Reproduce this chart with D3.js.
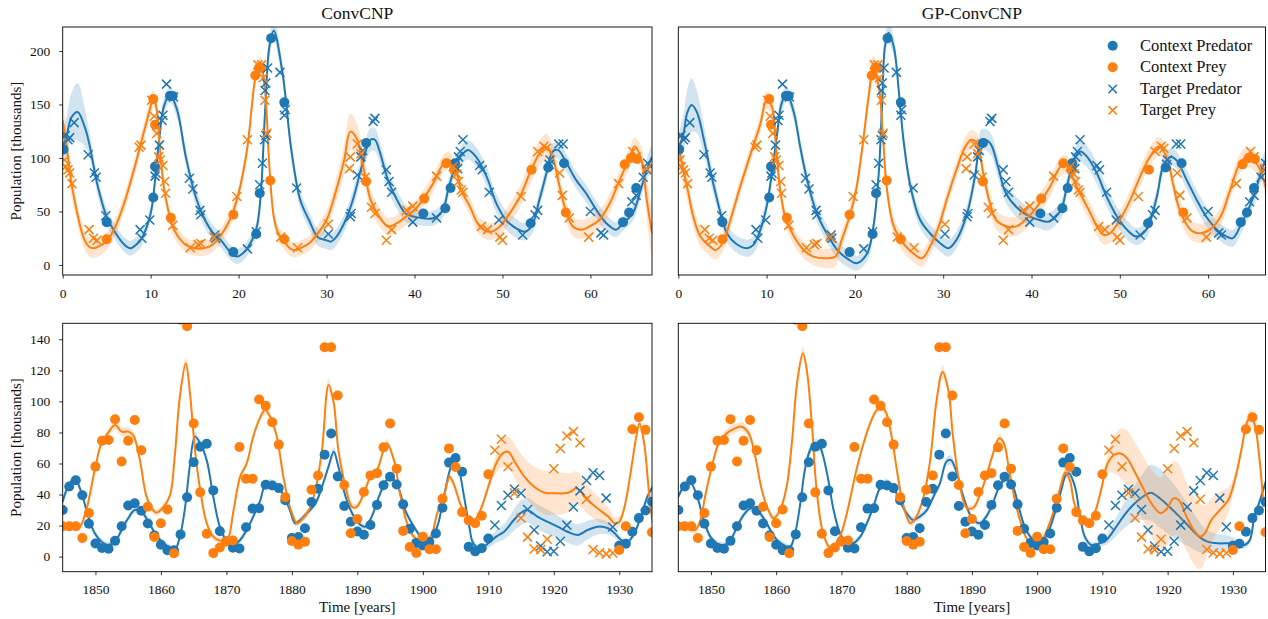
<!DOCTYPE html>
<html><head><meta charset="utf-8">
<script src="https://cdn.jsdelivr.net/npm/d3@7"></script>
<style>
html,body{margin:0;padding:0;background:#fff;}
svg{display:block;}
text{font-family:"Liberation Serif","Times New Roman",serif;}
</style></head><body>
<svg id="chart" width="1268" height="619"></svg>
<script>
// ---------------- DATA ----------------
const titles = ["ConvCNP", "GP-ConvCNP"];
const legendLabels = ["Context Predator", "Context Prey", "Target Predator", "Target Prey"];
const topXTicks = [0, 10, 20, 30, 40, 50, 60];
const topYTicks = [0, 50, 100, 150, 200];
const botXTicks = [1850, 1860, 1870, 1880, 1890, 1900, 1910, 1920, 1930];
const botYTicks = [0, 20, 40, 60, 80, 100, 120, 140];

// Top row: simulated predator/prey, [time, population]
const ctxPredTop = [[0.1,108],[5.0,40],[10.3,63],[10.5,92],[12.2,158],[12.5,158],[19.4,12],[22.0,29],[22.4,67],[23.7,212],[25.2,152],[34.5,114],[41.0,48],[43.5,53],[44.1,72],[44.6,95],[53.2,39],[55.2,91],[57.0,95],[63.7,40],[64.4,49],[65.2,72]];
const ctxPreyTop = [[5.0,24],[10.3,155],[10.5,131],[12.3,44],[19.4,47],[21.9,177],[22.3,184],[22.5,184],[23.6,79],[25.2,24],[34.5,78],[41.1,62],[43.6,95],[44.5,89],[53.3,89],[57.2,49],[63.9,94],[64.6,100],[65.3,99]];
const tgtPredTop = [[0.3,121],[0.6,117],[0.8,119],[1.3,133],[2.9,103],[3.6,86],[3.8,82],[4.9,46],[8.8,33],[9.0,25],[9.9,42],[10.5,83],[10.6,86],[11.0,112],[11.3,135],[11.4,140],[11.8,169],[12.6,157],[14.4,81],[14.8,71],[15.6,51],[15.7,47],[17.3,28],[17.4,25],[21.0,15],[22.0,31],[22.4,75],[22.7,95],[22.95,117],[23.1,121],[23.0,163],[23.1,170],[23.3,184],[24.7,180],[25.2,140],[25.3,145],[26.6,72],[30.2,29],[32.7,45],[32.8,48],[33.5,84],[33.9,101],[34.1,107],[35.3,134],[35.5,137],[36.8,89],[37.1,78],[37.4,68],[39.8,40],[42.5,44],[44.9,90],[45.0,101],[45.2,106],[45.5,117],[47.4,93],[47.7,89],[48.5,68],[49.6,42],[52.3,28],[53.7,47],[54.0,51],[55.3,94],[55.4,98],[56.4,113],[56.9,113],[60.0,50],[61.2,30],[61.5,28],[64.7,59],[65.2,65],[66.0,82],[66.4,89],[66.5,95]];
const tgtPreyTop = [[0.2,98],[0.35,92],[0.6,89],[0.8,86],[1.05,76],[3.0,33],[3.5,25],[3.9,23],[8.7,110],[8.9,112],[10.1,154],[10.4,139],[10.7,123],[10.9,101],[11.1,98],[11.4,93],[11.6,78],[11.7,67],[12.5,37],[14.5,16],[15.4,19],[15.7,20],[17.2,26],[19.8,64],[21.0,117],[22.2,187],[22.6,187],[22.8,175],[23.0,154],[23.2,123],[24.8,26],[26.7,16],[30.2,38],[32.6,90],[32.7,101],[33.5,113],[33.9,104],[34.4,82],[35.1,54],[35.5,48],[36.8,23],[37.4,33],[39.1,51],[39.8,55],[42.5,83],[44.4,92],[44.8,85],[45.0,78],[45.3,70],[45.5,68],[47.6,36],[48.3,33],[49.7,26],[50.0,23],[52.1,64],[54.0,106],[54.7,111],[55.0,109],[56.5,86],[56.8,65],[57.6,44],[59.8,26],[63.2,76],[64.8,106],[65.2,101],[66.4,90]];

// Model predictions, [time, mean, band half-width]
const convTopPred = [[0,110,16],[0.5,123,18],[1,138,23],[1.7,143,27],[2.5,129,18],[3,114,12],[4,73,9],[5,45,8],[6,30,7],[7,19,7],[7.7,15.6,7],[8.5,20,7],[9,25,7],[10,48,7],[10.5,79,8],[11,120,8],[11.5,148,8],[12.2,159,7],[13,145,8],[14,101,8],[15,67,8],[16,45,8],[17,31,7],[18,23,7],[19,12.5,7],[19.8,7.8,7],[20.5,11,7],[21,15.6,7],[22,33,7],[22.5,64,8],[23,142,9],[23.5,204,10],[24,219,10],[25,179,9],[26,107,9],[27,61,8],[28,42,8],[29,26,8],[30,23,8],[30.5,21.8,8],[31,25,8],[32,39,8],[33,61,9],[34,92,10],[35,117,11],[35.5,117,11],[36,107,10],[37,79,10],[38,61,9],[39,48,8],[40,45,7],[42.1,43.6,7],[43.2,51,7],[43.9,73,8],[44.8,95,8],[45.5,104,9],[46.1,107.5,9],[47,101,9],[48.2,82.6,9],[49.3,57.6,9],[50.4,42,9],[51.6,34,9],[52.5,31,8],[53.3,36,8],[54.2,61,8],[55,85.7,8],[55.7,106,8],[56.3,107.5,8],[57.3,95,8],[58.4,79,8],[59.5,67,8],[60.7,51,8],[61.8,39,8],[62.9,33,7],[63.7,39,7],[64.8,48,7],[65.6,67,8],[66.4,89,10],[67,101,12]];
const convTopPrey = [[0,135,18],[0.5,107,15],[1,76,12],[1.5,54.5,10],[2,36,9],[2.5,23,9],[3,17,9],[3.5,15.6,9],[4,17,9],[5,22,8],[6,36,8],[7,58,8],[8,86,8],[9,117,8],[10,148,8],[10.3,156,8],[10.7,145,8],[11,114,8],[11.5,73,8],[12,51,7],[12.5,36,7],[13,28,7],[14,18.7,7],[15,15.6,7],[16,15.6,7],[17,18.7,7],[18,28,7],[19,42,7],[20,67,7],[21,110,7],[21.5,148,7],[22,179,7],[22.5,188,7],[23,163.5,7],[23.5,92,7],[24,45,7],[24.5,29.6,7],[25,23.4,7],[26,14.6,7],[26.5,14,7],[27,15.6,7],[28,20,7],[29,29.6,8],[30,42,9],[31,67,11],[32,98,14],[32.7,124.6,17],[33.5,117,14],[34,98,12],[34.5,79,11],[35,61,10],[36,45,9],[37,36,8],[38,39,8],[39,45,8],[40.2,53,8],[42.1,76,8],[43.2,93.5,8],[43.9,98,8],[44.8,85.7,8],[45.3,70,8],[46.3,54.5,8],[47.4,36,8],[48.6,31,8],[49.7,36,8],[50.8,48,9],[52,64,10],[53.1,85.7,11],[54.2,104,12],[55,110.6,12],[55.7,101,11],[56.5,73,10],[57.3,48,9],[58,36,9],[59,33,9],[59.9,36,9],[61,42,9],[62.2,57.6,9],[63.3,79,9],[64.5,101,9],[65,110.6,9],[65.8,98,12],[66.4,61,18],[67,29.6,25]];
const gpTopPred = [[0,107.5,14],[0.6,123,18],[1,142,22],[1.5,149.5,25],[2.1,143,20],[2.9,117,14],[3.6,89,10],[4.4,61,9],[5,42,8],[5.5,29.6,8],[6.5,20,8],[7.8,15.6,8],[8.5,18.7,8],[9.3,33,8],[10,54.5,8],[10.6,85.7,8],[11.2,123,8],[11.7,151,8],[12.3,159.5,7],[13.1,142,8],[13.8,110.6,8],[14.6,79,8],[15.7,48,8],[16.8,29.6,8],[18,14,8],[19.1,6.2,8],[20.2,1.6,7],[21.4,11,7],[22.1,36,7],[22.7,85.7,7],[23.1,154,8],[23.4,204,9],[23.8,217,10],[24.4,204,9],[25,160,9],[25.5,117,9],[26.3,73,8],[27.4,42,8],[28.5,29.6,8],[29.7,20,8],[30.6,15.6,8],[31.5,23.4,8],[32.7,48,8],[33.6,82.6,9],[34.4,117,10],[35.3,114,10],[36.2,92,10],[37.1,67,9],[38.7,51,9],[39.9,45,8],[40.9,42,8],[41.9,40.5,8],[43.3,51,8],[44,73,8],[44.8,98,9],[45.5,106,10],[46.3,101,10],[47.4,85.7,10],[48.5,64,9],[49.7,45,9],[50.8,33,9],[51.9,26.5,8],[53,33,8],[54.2,64,8],[54.9,92,8],[55.7,101,8],[56.4,98,8],[57.6,79,9],[58.7,61,9],[59.8,45,9],[61,33,8],[62.1,26.5,8],[62.8,25,8],[63.8,39,8],[64.7,54.5,8],[65.5,73,9],[66.2,92,10],[66.7,101,10]];
const gpTopPrey = [[0,110.6,16],[0.4,95,14],[1,73,12],[1.7,45,10],[2.5,26.5,9],[3.4,18.7,9],[4.2,14,9],[5,20,8],[5.9,42,8],[7,73,8],[8.2,104,8],[9.3,132,8],[10,154,8],[10.6,148,8],[11,117,8],[11.5,73,8],[12.1,45,8],[13.1,26.5,8],[14.2,14,8],[15.3,7.8,8],[16.8,6.2,9],[17.8,7.8,9],[18.5,23.4,8],[19.5,48,8],[20.2,73,8],[21,120,8],[21.5,154,10],[22.1,184,12],[22.7,167,10],[23.2,117,8],[23.6,73,8],[24.4,36,8],[25.5,20,8],[26.6,11,8],[27.6,6.2,8],[28.5,17,8],[29.5,36,8],[30.4,61,8],[31.5,89,8],[32.5,110.6,9],[33.2,117,9],[33.8,114,9],[34.6,82.6,9],[35.3,57.6,9],[36,42,9],[37.2,36,9],[38.3,36,9],[39.5,43.6,9],[40.9,57.6,9],[42.1,73,9],[43.3,92,9],[44,93.5,9],[44.8,79,9],[45.5,67,9],[46.7,48,9],[47.4,36,9],[48.2,28,9],[48.9,29.6,9],[50,42,9],[51.2,61,9],[52.3,82.6,9],[53.4,101,9],[54.4,110.6,9],[55.3,101,9],[56.1,73,9],[56.8,51,9],[58,33,9],[59.1,29.6,9],[60.2,33,9],[61.4,45,9],[62.5,70,9],[63.6,95,9],[64.4,101,9],[65.1,98,9],[65.9,89,9],[66.5,73,10],[66.7,61,10]];

// Bottom row: Hudson Bay hare (prey) / lynx (predator), thousands
const years = [1845,1846,1847,1848,1849,1850,1851,1852,1853,1854,1855,1856,1857,1858,1859,1860,1861,1862,1863,1864,1865,1866,1867,1868,1869,1870,1871,1872,1873,1874,1875,1876,1877,1878,1879,1880,1881,1882,1883,1884,1885,1886,1887,1888,1889,1890,1891,1892,1893,1894,1895,1896,1897,1898,1899,1900,1901,1902,1903,1904,1905,1906,1907,1908,1909,1910,1911,1912,1913,1914,1915,1916,1917,1918,1919,1920,1921,1922,1923,1924,1925,1926,1927,1928,1929,1930,1931,1932,1933,1934,1935];
const hare = [19.58,19.6,19.61,11.99,28.04,58,74.6,75.09,88.48,61.28,74.67,88.06,68.51,32.19,12.64,21.49,30.35,2.18,152.65,148.36,85.81,41.41,14.75,2.28,5.91,9.95,10.44,70.64,50.12,50.13,101.25,97.12,86.51,72.17,38.32,10.11,7.74,9.67,43.12,52.21,134.85,134.86,103.79,46.1,15.03,24.2,41.65,52.34,53.78,70.4,85.81,56.69,16.59,6.16,2.3,12.82,4.72,4.73,37.22,69.72,57.78,28.68,23.37,21.54,26.34,53.1,68.48,75.58,57.92,40.97,24.95,12.59,4.97,4.5,11.21,56.6,69.63,77.74,80.53,73.38,36.93,4.64,2.54,1.8,2.39,4.23,19.52,82.11,89.76,81.66,15.76];
const lynx = [30.09,45.15,49.15,39.52,21.23,8.42,5.56,5.08,10.17,19.6,32.91,34.38,29.59,21.3,13.69,7.65,4.08,4.09,14.33,38.22,60.78,70.77,72.77,42.68,16.39,9.83,5.8,5.26,18.91,30.95,31.18,46.34,45.77,44.15,36.33,12.03,12.6,18.34,35.14,43.77,65.69,79.35,51.65,32.59,22.45,16.16,14.12,20.38,33.33,46.0,51.41,46.43,33.68,18.01,8.86,7.13,9.47,14.86,31.47,60.57,63.51,54.7,6.3,3.41,5.44,11.65,20.35,32.88,39.55,43.36,40.83,30.36,17.18,6.82,3.19,3.52,9.94,20.3,31.99,42.36,49.08,53.99,52.25,37.7,19.14,6.98,8.31,16.01,24.82,29.7,35.4];
const targetYears = [1911,1912,1913,1914,1915,1916,1917,1918,1919,1920,1921,1922,1923,1924,1925,1926,1927,1928,1929];

const convBotPred = [[1845,35.4,2],[1845.8,45,2],[1846.8,50.5,2],[1847.9,40.8,2],[1848.9,25.8,2],[1849.9,15,2],[1850.9,9.7,2],[1851.9,7.5,2],[1853,9.7,2],[1854,17.2,2],[1855,24.7,2],[1856,30,2],[1857,29,2],[1858.1,22.5,2],[1859.1,15,2],[1860.1,9.7,2],[1861.1,6.4,2],[1862.1,4.3,2],[1862.9,12.9,2],[1863.7,32,2],[1864.4,58,2],[1865.2,77.3,3],[1866,73,2],[1867,62,2],[1868,38.6,2],[1869,19.3,2],[1870.1,9.7,2],[1871.1,7.5,2],[1872.1,10.7,2],[1873.1,17.2,2],[1874.1,25.8,2],[1875.2,36.5,2],[1875.9,46,2],[1876.7,47,3],[1877.7,46,2],[1878.7,39.7,2],[1879.7,30,2],[1880.5,21.5,2],[1881.3,23.6,2],[1882.3,28,2],[1883.6,34.3,2],[1884.6,45,2],[1885.6,58,2],[1886.4,67.6,3],[1887.1,58,2],[1888.2,38.6,2],[1889.2,28,2],[1890.2,21.5,2],[1891.2,19.3,2],[1892.2,25.8,2],[1893.3,38.6,2],[1894.5,49.4,2],[1895.3,50.5,2],[1896.3,44,2],[1897.3,30,2],[1898.4,21,2],[1899.7,12.9,2],[1900.9,9.7,2],[1902.2,19.3,2],[1903.2,38.6,2],[1904.3,58,2],[1904.8,61.2,2],[1905.5,55.8,2],[1906.3,38.6,2],[1907.1,19.3,2],[1907.7,8.6,2],[1908.8,5.4,2],[1910,8.6,3],[1911.2,12.9,4],[1912.4,16,5],[1913.9,23.6,7],[1914.9,28,8],[1915.9,30,8],[1917.5,25.8,8],[1919,22.5,8],[1920.6,19.3,7],[1922.1,16,7],[1923.7,14,7],[1925.2,17.2,6],[1926.7,19.3,5],[1928.3,18.3,4],[1929.3,15,3],[1930.3,10.7,2],[1931.3,9.7,2],[1932.3,15,2],[1933.3,25.8,2],[1934.3,38.6,2],[1935.1,45,2]];
const convBotPrey = [[1845,19.3,2],[1846.3,18.3,2],[1847.6,19.3,2],[1848.6,30,2],[1849.9,55.8,2],[1850.9,73,2],[1851.9,79.5,2],[1853,84.8,3],[1854,80.5,3],[1855,80.5,3],[1855.8,78,3],[1856.8,62,2],[1857.8,38.7,2],[1858.8,30,2],[1859.3,28.3,2],[1860.4,32,2],[1861.4,39.7,2],[1862.1,64,2],[1862.9,103,3],[1863.8,124.5,4],[1864.4,107,3],[1865.2,68.7,2],[1866,43,2],[1867,21.5,2],[1868,12.9,2],[1869,10.3,2],[1870.1,10.7,2],[1871.1,30,2],[1872.1,51.5,2],[1873.1,60,2],[1874.1,77.3,2],[1875.2,90,2],[1875.9,94.5,3],[1876.7,90,2],[1877.7,77.3,2],[1878.7,51.5,2],[1879.7,32,2],[1880.8,21.5,2],[1881.5,23.6,2],[1882.6,30,2],[1883.6,43,2],[1884.6,68.7,2],[1885.6,110.6,4],[1886.4,98.8,3],[1887.1,68.7,2],[1888.2,45,2],[1889.2,32,2],[1889.9,32,2],[1891,40.8,2],[1892,51.5,2],[1893,55.8,2],[1894,68.7,2],[1894.5,73,3],[1895.6,62,2],[1896.6,38.7,2],[1897.6,21.5,2],[1898.6,12.9,2],[1899.96,9.7,2],[1901.2,12.9,2],[1902.2,28,2],[1903.2,38.6,2],[1904.1,51.5,3],[1904.7,47,2],[1905.7,34.3,2],[1906.7,25.8,2],[1907.7,22.5,2],[1908.8,30,2],[1910,45,3],[1911.2,60,6],[1912.2,66.5,9],[1913,67.6,10],[1914.2,60,11],[1915.5,51.5,12],[1917,45,13],[1918.6,41.2,14],[1920.1,40.8,14],[1921.6,40.8,13],[1922.6,41.8,12],[1923.4,44,11],[1924.2,41.8,10],[1925.2,36.5,9],[1926.7,31,8],[1928.3,25.8,6],[1929.3,21.5,4],[1930,22.5,3],[1930.8,32,2],[1931.8,55.8,2],[1932.6,77.3,2],[1933.1,85.8,3],[1933.8,73,2],[1934.6,38.6,2],[1935.1,21.5,2]];
const gpBotPred = [[1845,38.6,2],[1846.1,47,2],[1846.8,48.3,2],[1847.9,38.6,2],[1848.9,23.6,2],[1849.9,12.9,2],[1850.9,8.6,2],[1851.9,7.5,2],[1853,10.7,2],[1854,19.3,2],[1855,26.8,2],[1856,31,2],[1857,30,2],[1858.1,24.7,2],[1859.1,17.2,2],[1860.1,10.7,2],[1861.1,7.5,2],[1862.1,6,2],[1862.9,15,2],[1863.7,34.3,2],[1864.4,55.8,2],[1865.2,68.7,3],[1866,73,3],[1866.7,70.8,3],[1867.8,53.6,2],[1868.8,30,2],[1869.8,15,2],[1870.8,8.6,2],[1871.8,8.6,2],[1872.9,12.9,2],[1873.9,21.5,2],[1874.9,32,2],[1875.9,44,2],[1876.9,47.2,3],[1878,44,2],[1879,35.4,2],[1880,28,2],[1881,23.6,2],[1882,25.8,2],[1883.1,30,2],[1884.1,38.6,2],[1885.1,47.2,2],[1886.1,61.2,3],[1886.8,62.2,3],[1887.7,53.6,2],[1888.7,38.6,2],[1889.9,25.8,2],[1891.2,21.5,2],[1892.2,25.8,2],[1893.2,34.3,2],[1894.2,45,2],[1895.3,50.4,2],[1896.3,45,2],[1897.3,30,2],[1898.3,17.2,2],[1899.5,10.7,2],[1900.6,9.7,2],[1901.6,15,2],[1902.7,28,2],[1903.7,43,2],[1904.4,52.6,2],[1904.9,53.6,2],[1905.8,45,2],[1906.5,28,2],[1907.3,12.9,2],[1908.3,7.5,2],[1909.6,8.6,2],[1910.6,10.7,3],[1911.6,16,5],[1913.2,25.8,8],[1914.7,33.3,11],[1916.2,38.6,15],[1917.4,41.2,18],[1918.8,37.6,19],[1920.3,32,18],[1921.8,25.8,16],[1923.3,19.3,13],[1924.8,12.9,10],[1926.1,9.7,7],[1927.7,8.6,6],[1929.2,8.6,5],[1930.5,8.6,3],[1931.8,7.5,2],[1932.6,10.7,2],[1933.3,25.8,2],[1934,34.3,2],[1934.8,45,2],[1935.1,49.4,2]];
const gpBotPrey = [[1845,19.3,2],[1846.3,18.2,2],[1847.6,17.2,2],[1848.4,23.6,2],[1849.1,38.6,2],[1850.15,58,2],[1851.2,73,2],[1852.4,79.4,3],[1853.7,82.6,3],[1854.7,83.7,3],[1855.8,79.4,3],[1856.8,64.4,2],[1857.8,43,2],[1858.8,30,2],[1859.6,24.7,2],[1860.6,30,2],[1861.6,45,2],[1862.4,73,2],[1863.2,111.6,3],[1864.1,131,4],[1864.7,120,3],[1865.5,83.7,2],[1866.2,43,2],[1867.2,15,2],[1868.3,5.4,2],[1869.3,8.6,2],[1870.3,19.3,2],[1871.3,36.5,2],[1872.3,55.8,2],[1873.4,73,2],[1874.4,85.8,2],[1875.4,94.4,2],[1876.2,96.6,3],[1876.9,92.3,2],[1877.7,77.3,2],[1878.5,55.8,2],[1879.2,38.6,2],[1880,25.8,2],[1880.6,21.5,2],[1881.5,25.8,2],[1882.6,38.6,2],[1883.6,62,2],[1884.6,101,3],[1885.5,119,4],[1886.4,107,3],[1887.1,77.3,2],[1888.2,45,2],[1889.2,31.5,2],[1890.2,31.5,2],[1891.2,39.5,2],[1892.2,51.5,2],[1893.1,64.4,2],[1894.2,76.2,3],[1894.9,73,2],[1895.7,55.8,2],[1896.7,34.3,2],[1897.7,19.3,2],[1898.7,9.7,2],[1899.9,8.6,2],[1900.9,11.8,2],[1901.9,21.5,2],[1902.9,34.3,2],[1903.7,47,2],[1904.3,54.3,3],[1905,49.4,2],[1905.7,34.3,2],[1906.8,23.6,2],[1907.8,21.5,2],[1908.8,28,2],[1909.8,43,3],[1910.8,60,6],[1911.8,65.5,12],[1912.8,66.5,16],[1913.8,63.3,18],[1914.8,55.8,19],[1915.9,47,20],[1916.9,38.6,21],[1917.9,32,22],[1918.9,28,23],[1919.9,31,24],[1920.9,37.5,24],[1921.7,36.5,23],[1922.9,25.8,22],[1924,17.2,22],[1925,12.9,21],[1925.7,15,18],[1926.7,23.6,14],[1928,30,12],[1929.3,36.5,8],[1930.3,49.4,4],[1931.3,68.7,3],[1932.1,85.8,4],[1932.7,90,5],[1933.3,85.8,4],[1934.1,62,3],[1934.7,32,3]];

// ---------------- DRAW ----------------
const BLUE = "#1f77b4", ORANGE = "#ff7f0e";
const svg = d3.select("#chart");

const isTarget = yr => targetYears.includes(yr);
const botPts = {
  ctxPred: years.map((yr, i) => [yr, lynx[i]]).filter(d => !isTarget(d[0])),
  ctxPrey: years.map((yr, i) => [yr, hare[i]]).filter(d => !isTarget(d[0])),
  tgtPred: years.map((yr, i) => [yr, lynx[i]]).filter(d => isTarget(d[0])),
  tgtPrey: years.map((yr, i) => [yr, hare[i]]).filter(d => isTarget(d[0]))
};
const topPts = {ctxPred: ctxPredTop, ctxPrey: ctxPreyTop, tgtPred: tgtPredTop, tgtPrey: tgtPreyTop};

const L = 62.7, R1 = 652, L2 = 678.3, R2 = 1265.5;
const T1 = 27, B1 = 275, T2 = 323.3, B2 = 571.7;
const panels = [
  {left:L, right:R1, top:T1, bottom:B1, xdom:[0,67], ydom:[-9.4,222.4], xt:topXTicks, yt:topYTicks, title:titles[0], pred:convTopPred, prey:convTopPrey, pts:topPts},
  {left:L2, right:R2, top:T1, bottom:B1, xdom:[0,66.5], ydom:[-9.4,222.4], xt:topXTicks, yt:null, title:titles[1], pred:gpTopPred, prey:gpTopPrey, pts:topPts, legend:true},
  {left:L, right:R1, top:T2, bottom:B2, xdom:[1845,1935], ydom:[-9.7,150.3], xt:botXTicks, yt:botYTicks, xlabel:true, pred:convBotPred, prey:convBotPrey, pts:botPts},
  {left:L2, right:R2, top:T2, bottom:B2, xdom:[1845,1935], ydom:[-9.7,150.3], xt:botXTicks, yt:null, xlabel:true, pred:gpBotPred, prey:gpBotPrey, pts:botPts}
];

const crossPath = s => `M${-s},${-s}L${s},${s}M${-s},${s}L${s},${-s}`;
const FONT = '"Liberation Serif","Times New Roman",serif';

panels.forEach((p, i) => {
  const x = d3.scaleLinear().domain(p.xdom).range([p.left, p.right]);
  const y = d3.scaleLinear().domain(p.ydom).range([p.bottom, p.top]);
  const cid = "clip" + i;
  svg.append("clipPath").attr("id", cid).append("rect")
    .attr("x", p.left).attr("y", p.top).attr("width", p.right - p.left).attr("height", p.bottom - p.top);
  const g = svg.append("g");
  const plot = g.append("g").attr("clip-path", `url(#${cid})`);
  const curve = d3.curveCatmullRom.alpha(0.5);
  const area = d3.area().x(d => x(d[0])).y0(d => y(d[1] - d[2])).y1(d => y(d[1] + d[2])).curve(curve);
  const line = d3.line().x(d => x(d[0])).y(d => y(d[1])).curve(curve);

  plot.append("path").attr("d", area(p.pred)).attr("fill", BLUE).attr("fill-opacity", 0.2);
  plot.append("path").attr("d", line(p.pred)).attr("fill", "none").attr("stroke", BLUE).attr("stroke-width", 2);
  plot.append("path").attr("d", area(p.prey)).attr("fill", ORANGE).attr("fill-opacity", 0.2);
  plot.append("path").attr("d", line(p.prey)).attr("fill", "none").attr("stroke", ORANGE).attr("stroke-width", 2);

  plot.selectAll(null).data(p.pts.ctxPred).enter().append("circle")
    .attr("cx", d => x(d[0])).attr("cy", d => y(d[1])).attr("r", 5).attr("fill", BLUE);
  plot.selectAll(null).data(p.pts.ctxPrey).enter().append("circle")
    .attr("cx", d => x(d[0])).attr("cy", d => y(d[1])).attr("r", 5).attr("fill", ORANGE);
  plot.selectAll(null).data(p.pts.tgtPred).enter().append("path")
    .attr("transform", d => `translate(${x(d[0])},${y(d[1])})`).attr("d", crossPath(4.5))
    .attr("stroke", BLUE).attr("stroke-width", 1.5).attr("fill", "none");
  plot.selectAll(null).data(p.pts.tgtPrey).enter().append("path")
    .attr("transform", d => `translate(${x(d[0])},${y(d[1])})`).attr("d", crossPath(4.5))
    .attr("stroke", ORANGE).attr("stroke-width", 1.5).attr("fill", "none");

  // axes
  const xa = g.append("g").attr("transform", `translate(0,${p.bottom})`)
    .call(d3.axisBottom(x).tickValues(p.xt).tickFormat(d3.format("d")).tickSize(3.5).tickPadding(9.5));
  xa.select(".domain").remove();
  xa.selectAll("line").attr("stroke", "#000").attr("stroke-width", 0.8);
  xa.selectAll("text").attr("font-family", FONT).attr("font-size", 13.5).attr("fill", "#111");
  if (p.yt) {
    const ya = g.append("g").attr("transform", `translate(${p.left},0)`)
      .call(d3.axisLeft(y).tickValues(p.yt).tickSize(3.5).tickPadding(9));
    ya.select(".domain").remove();
    ya.selectAll("line").attr("stroke", "#000").attr("stroke-width", 0.8);
    ya.selectAll("text").attr("font-family", FONT).attr("font-size", 13.5).attr("fill", "#111");
    g.append("text").attr("transform", `translate(21,${(p.top + p.bottom) / 2}) rotate(-90)`)
      .attr("text-anchor", "middle").attr("font-size", 15).attr("fill", "#111").text("Population [thousands]");
  }
  g.append("rect").attr("x", p.left).attr("y", p.top).attr("width", p.right - p.left).attr("height", p.bottom - p.top)
    .attr("fill", "none").attr("stroke", "#000").attr("stroke-width", 0.9);

  if (p.title) {
    g.append("text").attr("x", (p.left + p.right) / 2).attr("y", 18.5).attr("text-anchor", "middle")
      .attr("font-size", 17.5).attr("fill", "#111").text(p.title);
  }
  if (p.xlabel) {
    g.append("text").attr("x", (p.left + p.right) / 2).attr("y", 611.5).attr("text-anchor", "middle")
      .attr("font-size", 15).attr("fill", "#111").text("Time [years]");
  }
  if (p.legend) {
    const lg = g.append("g");
    const rows = [45.7, 67.3, 89, 110.3];
    const mx = 1112.7, tx = 1140;
    legendLabels.forEach((lab, k) => {
      const col = (k % 2 === 0) ? BLUE : ORANGE;
      if (k < 2) lg.append("circle").attr("cx", mx).attr("cy", rows[k]).attr("r", 5).attr("fill", col);
      else lg.append("path").attr("transform", `translate(${mx},${rows[k]})`).attr("d", crossPath(4.2))
        .attr("stroke", col).attr("stroke-width", 1.5).attr("fill", "none");
      lg.append("text").attr("x", tx).attr("y", rows[k] + 5).attr("font-size", 16.5).attr("fill", "#111").text(lab);
    });
  }
});
</script></body></html>
